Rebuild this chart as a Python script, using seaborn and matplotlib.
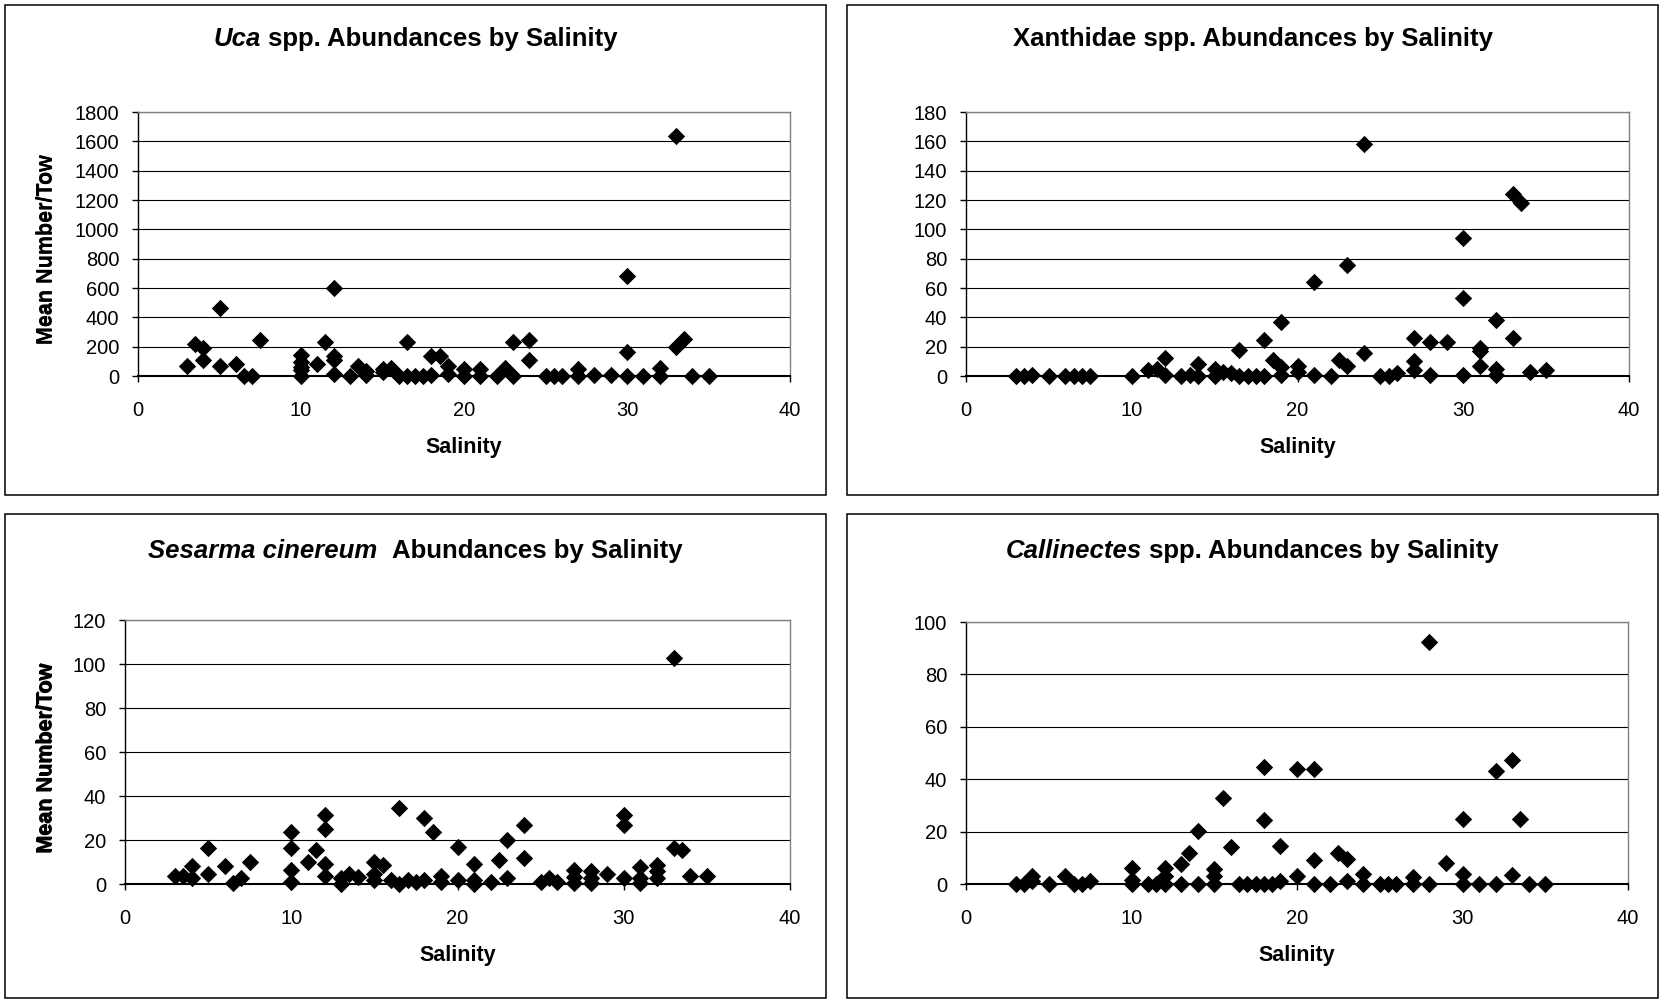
import matplotlib
matplotlib.use('Agg')
import matplotlib.pyplot as plt
import seaborn as sns
import pandas as pd
from matplotlib.patches import Rectangle

# Uca spp.
uca_salinity = [3, 3.5, 4, 4, 5, 5, 6, 6.5, 7, 7.5,
                10, 10, 10, 10, 10, 11, 11.5, 12, 12, 12, 12,
                13, 13.5, 14, 14, 15, 15, 15.5, 16, 16.5, 16.5, 17, 17.5,
                18, 18, 18.5, 19, 19, 20, 20, 21, 21, 22, 22.5, 23, 23,
                24, 24, 25, 25.5, 26, 27, 27, 28, 29, 30, 30, 30, 31,
                32, 32, 33, 33, 33.5, 34, 35]
uca_mean = [65, 216, 194, 107, 461, 65, 80, 0, 0, 243,
            140, 96, 62, 40, 0, 80, 230, 600, 133, 107, 15,
            0, 70, 37, 10, 46, 28, 55, 0, 230, 0, 0, 0,
            133, 8, 133, 70, 15, 46, 0, 50, 0, 0, 55, 232, 0,
            245, 107, 0, 0, 0, 45, 0, 10, 10, 681, 163, 0, 0,
            55, 0, 1634, 197, 250, 0, 0]

# Xanthidae spp.
xan_salinity = [3, 3.5, 4, 5, 6, 6.5, 7, 7.5,
                10, 11, 11.5, 12, 12, 13, 13.5, 14, 14, 15, 15, 15.5, 16,
                16.5, 16.5, 17, 17.5, 18, 18, 18.5, 19, 19, 19, 20, 20,
                21, 21, 22, 22.5, 23, 23, 24, 24, 25, 25.5, 26,
                27, 27, 27, 28, 28, 29, 30, 30, 30, 31, 31, 31,
                32, 32, 32, 33, 33.5, 33, 34, 35]
xan_mean = [0, 0, 1, 0, 0, 0, 0, 0,
            0, 4, 5, 12, 1, 0, 1, 8, 0, 5, 0, 3, 2,
            18, 0, 0, 0, 24.5, 0, 11, 37, 6, 1, 7, 3,
            64, 1, 0, 11, 76, 7, 158, 16, 0, 0, 2,
            26, 10, 4, 23, 1, 23, 94, 53, 1, 19, 17, 7,
            38, 5, 1, 124, 118, 26, 3, 4]

# Sesarma cinereum
ses_salinity = [3, 3.5, 4, 4, 5, 5, 6, 6.5, 7, 7.5,
                10, 10, 10, 10, 11, 11.5, 12, 12, 12, 12,
                13, 13, 13.5, 14, 15, 15, 15, 15.5, 16, 16.5, 16.5, 17, 17.5,
                18, 18, 18.5, 19, 19, 20, 20, 21, 21, 21, 22, 22.5, 23, 23,
                24, 24, 25, 25.5, 26, 27, 27, 27, 28, 28, 28, 29,
                30, 30, 30, 31, 31, 31, 32, 32, 32, 33, 33, 33.5, 34, 35]
ses_mean = [3.6, 3.6, 8, 2.7, 16.5, 4.4, 8, 0.5, 2.7, 10,
            23.8, 16.5, 6.2, 1, 10, 15.6, 31.3, 25, 9.3, 3.6,
            0, 2.7, 4.7, 3.2, 10, 4.7, 1.7, 8.8, 2, 34.6, 0, 1.7, 1,
            30, 1.7, 23.8, 3.6, 1, 17, 2, 9.3, 2, 0, 1, 11, 20, 2.7,
            27, 12, 1, 2.7, 1, 6.5, 3.2, 0.5, 6, 2.7, 0.5, 4.4,
            31.3, 27, 2.7, 7.7, 2.7, 0.5, 8.5, 6, 2.7, 102.8, 16.5, 15.6, 3.6, 3.6]

# Callinectes spp.
cal_salinity = [3, 3.5, 4, 4, 5, 6, 6.5, 7, 7.5,
                10, 10, 10, 11, 11.5, 12, 12, 12, 13, 13, 13.5, 14, 14,
                15, 15, 15, 15.5, 16, 16.5, 17, 17.5, 18, 18, 18, 18.5,
                19, 19, 20, 20, 21, 21, 21, 22, 22.5, 23, 23, 24, 24,
                25, 25.5, 26, 27, 27, 28, 28, 29, 30, 30, 30, 31,
                32, 32, 33, 33, 33.5, 34, 35]
cal_mean = [0, 0, 3, 1, 0, 3, 0, 0, 1,
            6, 1.6, 0, 0, 0, 6, 3, 0, 7.7, 0, 11.8, 20.3, 0,
            5.7, 3, 0, 33, 14.3, 0, 0, 0, 44.8, 24.5, 0, 0,
            14.6, 1, 43.8, 3, 43.8, 9.3, 0, 0, 11.8, 9.5, 1.3, 3.8, 0,
            0, 0, 0, 2.5, 0, 92.4, 0, 8, 25, 4, 0, 0,
            43.3, 0, 47.5, 3.3, 25, 0, 0]

sns.set_style('white')
plt.rcParams['font.family'] = ['Liberation Sans', 'DejaVu Sans']
plt.rcParams['text.color'] = 'black'
plt.rcParams['axes.labelcolor'] = 'black'
plt.rcParams['xtick.color'] = 'black'
plt.rcParams['ytick.color'] = 'black'

W, H = 1660, 1000
fig = plt.figure(figsize=(16.6, 10), dpi=100)
renderer = fig.canvas.get_renderer()

panels = [
    dict(box=(5, 5, 826, 495), area=(138, 112, 790, 376), x=uca_salinity, y=uca_mean,
         ymax=1800, ystep=200, base=46, title=[('Uca', 'italic'), ('spp. Abundances by Salinity', 'normal')]),
    dict(box=(847, 5, 1658, 495), area=(966, 112, 1629, 376), x=xan_salinity, y=xan_mean,
         ymax=180, ystep=20, base=46, title=[('Xanthidae spp. Abundances by Salinity', 'normal')]),
    dict(box=(5, 514, 826, 998), area=(125, 620, 790, 884), x=ses_salinity, y=ses_mean,
         ymax=120, ystep=20, base=558, title=[('Sesarma cinereum', 'italic'), (' Abundances by Salinity', 'normal')]),
    dict(box=(847, 514, 1658, 998), area=(966, 622, 1628, 884), x=cal_salinity, y=cal_mean,
         ymax=100, ystep=20, base=558, title=[('Callinectes', 'italic'), ('spp. Abundances by Salinity', 'normal')]),
]

# width of one space in the title font
probe1 = fig.text(0, 0, 'a a', fontsize=18.5, fontweight='bold')
probe2 = fig.text(0, 0, 'aa', fontsize=18.5, fontweight='bold')
space_w = probe1.get_window_extent(renderer).width - probe2.get_window_extent(renderer).width
probe1.remove()
probe2.remove()


def draw_title(cx, base, parts):
    items = []
    gaps = []
    for txt, st in parts:
        n_lead = len(txt) - len(txt.lstrip(' '))
        t = fig.text(0, 1 - base / H, txt.strip(), fontsize=18.5, fontweight='bold',
                     style=st, va='baseline', ha='left', color='black')
        gaps.append(n_lead + (1 if items else 0))
        items.append(t)
    widths = [t.get_window_extent(renderer).width for t in items]
    total = sum(widths) + sum(g * space_w for g in gaps)
    x = cx - total / 2
    for t, w, g in zip(items, widths, gaps):
        x += g * space_w
        t.set_x(x / W)
        x += w


for p in panels:
    x0, y0, x1, y1 = p['box']
    fig.add_artist(Rectangle((x0 / W, 1 - y1 / H), (x1 - x0) / W, (y1 - y0) / H,
                             transform=fig.transFigure, fill=False, edgecolor='black', lw=1.1))

    l, t, r, b = p['area']
    ax = fig.add_axes([l / W, 1 - b / H, (r - l) / W, (b - t) / H])
    df = pd.DataFrame({'Salinity': p['x'], 'Mean': p['y']})
    sns.scatterplot(data=df, x='Salinity', y='Mean', marker='D', s=78, color='black',
                    edgecolor='black', linewidth=0, clip_on=False, zorder=5, ax=ax)

    ax.set_xlim(0, 40)
    ax.set_ylim(0, p['ymax'])
    ax.set_xticks(range(0, 41, 10))
    ax.set_yticks(range(0, p['ymax'] + 1, p['ystep']))
    ax.yaxis.grid(True, color='black', lw=0.8)
    ax.set_axisbelow(True)
    ax.tick_params(axis='y', direction='out', length=4, width=1, color='black',
                   labelsize=14.5, labelcolor='black', pad=9.5, left=True)
    ax.tick_params(axis='x', direction='out', length=4, width=1, color='black',
                   labelsize=14.5, labelcolor='black', pad=14, bottom=True)
    for side in ['top', 'right']:
        ax.spines[side].set_color('#808080')
        ax.spines[side].set_linewidth(1)
    ax.spines['left'].set_color('black')
    ax.spines['left'].set_linewidth(1)
    ax.spines['bottom'].set_color('black')
    ax.spines['bottom'].set_linewidth(1.5)

    ax.set_xlabel('Salinity', fontsize=15.5, fontweight='bold', color='black')
    ax.set_ylabel('Mean Number/Tow', fontsize=15.5, fontweight='bold', color='black')
    ax.xaxis.set_label_coords(0.5, -72 / (b - t))
    ax.xaxis.label.set_va('center')
    ax.yaxis.set_label_coords((47 - l) / (r - l), 0.48)
    ax.yaxis.label.set_va('center')

    draw_title((x0 + x1) / 2, p['base'], p['title'])

fig.savefig('out.png', dpi=100)
